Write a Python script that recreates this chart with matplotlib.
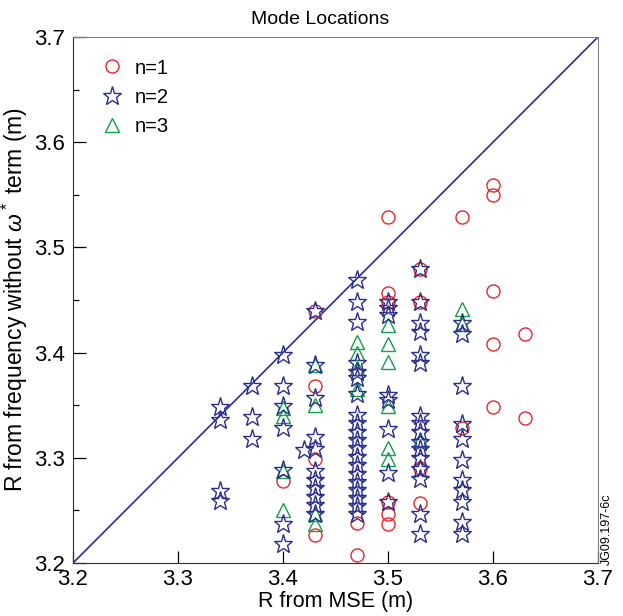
import matplotlib.pyplot as plt
from matplotlib.ticker import MultipleLocator

plt.rcParams['font.family'] = ['Liberation Sans', 'DejaVu Sans']
plt.rcParams['mathtext.fontset'] = 'custom'
plt.rcParams['mathtext.rm'] = 'Liberation Sans'
plt.rcParams['mathtext.it'] = 'Liberation Sans:italic'

# n=1 modes (circles)
n1_x = [3.40,
        3.43, 3.43, 3.43, 3.43,
        3.47, 3.47,
        3.50, 3.50, 3.50, 3.50, 3.50, 3.50,
        3.53, 3.53, 3.53, 3.53,
        3.57, 3.57,
        3.60, 3.60, 3.60, 3.60, 3.60,
        3.63, 3.63]
n1_y = [3.278,
        3.440, 3.368, 3.299, 3.227,
        3.238, 3.208,
        3.529, 3.457, 3.448, 3.258, 3.247, 3.237,
        3.479, 3.448, 3.290, 3.257,
        3.529, 3.328,
        3.559, 3.550, 3.459, 3.408, 3.348,
        3.418, 3.338]

# n=2 modes (stars)
n2_x = [3.34] * 4 + [3.37] * 3 + [3.40] * 7 + [3.42] + [3.43] * 11 \
    + [3.47] * 20 + [3.50] * 8 + [3.53] * 16 + [3.57] * 11
n2_y = [3.348, 3.336, 3.268, 3.259,
        3.368, 3.339, 3.318,
        3.398, 3.368, 3.349, 3.328, 3.288, 3.237, 3.218,
        3.307,
        3.440, 3.388, 3.357, 3.320, 3.308, 3.287, 3.279, 3.271, 3.263, 3.255, 3.247,
        3.469, 3.448, 3.429, 3.390, 3.382, 3.376, 3.361, 3.341, 3.333, 3.325,
        3.317, 3.309, 3.301, 3.293, 3.285, 3.277, 3.269, 3.262, 3.254, 3.247,
        3.448, 3.442, 3.436, 3.360, 3.355, 3.327, 3.286, 3.258,
        3.479, 3.448, 3.428, 3.420, 3.398, 3.390, 3.340, 3.333, 3.325, 3.315,
        3.308, 3.300, 3.289, 3.280, 3.247, 3.228,
        3.428, 3.418, 3.368, 3.332, 3.318, 3.298, 3.279, 3.269, 3.258, 3.239, 3.228]

# n=3 modes (triangles)
n3_x = [3.40] * 4 + [3.43] * 4 + [3.47] * 4 + [3.50] * 6 + [3.53] + [3.57] * 2
n3_y = [3.347, 3.340, 3.287, 3.250,
        3.388, 3.350, 3.247, 3.237,
        3.410, 3.400, 3.385, 3.365,
        3.426, 3.408, 3.391, 3.349, 3.309, 3.299,
        3.317,
        3.441, 3.427]

lims = [3.2, 3.7]

red = '#e8262c'
navy = '#2b2e8c'
green = '#12a04a'

fig = plt.figure(figsize=(6.23, 6.16), dpi=100)
ax = fig.add_axes([73 / 623, 1 - 563 / 616, 525 / 623, 526 / 616])

ax.plot(lims, lims, color=navy, lw=1.2, zorder=1)
ax.plot(n1_x, n1_y, 'o', ms=9.4, mfc='none', mec=red, mew=1.0, label='n=1', zorder=2)
ax.plot(n3_x, n3_y, '^', ms=9.8, mfc='none', mec=green, mew=1.0, label='n=3', zorder=3)
ax.plot(n2_x, n2_y, '*', ms=14, mfc='none', mec=navy, mew=1.0, label='n=2', zorder=4)

ax.set_xlim(lims)
ax.set_ylim(lims)
ax.xaxis.set_major_locator(MultipleLocator(0.1))
ax.yaxis.set_major_locator(MultipleLocator(0.1))
ax.yaxis.set_minor_locator(MultipleLocator(0.05))
ax.tick_params(which='both', direction='in', top=False, right=False, labelsize=16)
ax.tick_params(which='major', length=9, width=0.9)
ax.tick_params(which='minor', length=4.5, width=0.9)
ax.tick_params(axis='x', pad=4)
ax.tick_params(axis='y', pad=6)
for s in ['top', 'right']:
    ax.spines[s].set_color('#808080')
for s in ['left', 'bottom']:
    ax.spines[s].set_color('#303030')

ax.set_title('Mode Locations', fontsize=14, pad=9, x=0.47)
ax.set_xlabel('R from MSE (m)', fontsize=15.5, labelpad=1)
ax.set_ylabel(r'R from frequency without $\omega^*$ term (m)', fontsize=16.5, labelpad=3)

h, l = ax.get_legend_handles_labels()
order = [0, 2, 1]
ax.legend([h[i] for i in order], [l[i] for i in order], loc='upper left',
          frameon=False, fontsize=14.5, handlelength=1.2, handletextpad=0.55,
          labelspacing=0.5, borderaxespad=0.8, bbox_to_anchor=(0.005, 1.005))

fig.text(607 / 623, 1 - 565 / 616, 'JG09.197-6c', rotation=90, fontsize=9,
         ha='center', va='bottom')

fig.savefig('out.png', dpi=100)
